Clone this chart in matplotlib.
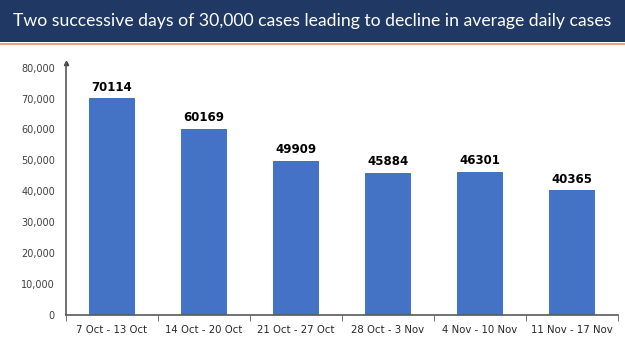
import matplotlib
matplotlib.use("Agg")
import matplotlib.pyplot as plt
from matplotlib.patches import Rectangle
from matplotlib.lines import Line2D

categories = ["7 Oct - 13 Oct", "14 Oct - 20 Oct", "21 Oct - 27 Oct",
              "28 Oct - 3 Nov", "4 Nov - 10 Nov", "11 Nov - 17 Nov"]
values = [70114, 60169, 49909, 45884, 46301, 40365]
yticks = [0, 10000, 20000, 30000, 40000, 50000, 60000, 70000, 80000]
title = "Two successive days of 30,000 cases leading to decline in average daily cases"

fig = plt.figure(figsize=(6.25, 3.51), dpi=100)
fig.patch.set_facecolor("white")

# header band
fig.add_artist(Rectangle((0, 1 - 42 / 351), 1, 42 / 351, transform=fig.transFigure,
                         facecolor="#1F3864", edgecolor="none", zorder=0))
fig.add_artist(Line2D([0, 1], [1 - 43.5 / 351] * 2, transform=fig.transFigure,
                      color="#E8A27C", lw=1.5))
fig.text(0.5, 1 - 21 / 351, title, ha="center", va="center", color="white",
         fontsize=12.7, family="Lato")

ax = fig.add_axes([66 / 625, 1 - 315 / 351, (618 - 66) / 625, (315 - 63) / 351])
x = list(range(len(categories)))
ax.bar(x, values, width=0.5, color="#4472C4", zorder=2)
for xi, v in zip(x, values):
    ax.text(xi, v + 1500, str(v), ha="center", va="bottom", fontsize=8.5,
            fontweight="bold", color="black")

ax.set_xlim(-0.5, len(categories) - 0.5)
ax.set_ylim(0, 81500)
ax.set_yticks(yticks)
ax.set_yticklabels([f"{t:,}" for t in yticks], fontsize=7, color="#404040")
ax.tick_params(axis="y", length=0, pad=8)
ax.set_xticks(x)
ax.set_xticklabels(categories, fontsize=7.3, color="#262626")
ax.tick_params(axis="x", length=0, pad=7)
ax.set_xticks([i - 0.5 for i in range(len(categories) + 1)], minor=True)
ax.tick_params(axis="x", which="minor", length=4, color="#595959", direction="out")

for s in ["top", "right"]:
    ax.spines[s].set_visible(False)
for s in ["left", "bottom"]:
    ax.spines[s].set_color("#595959")
    ax.spines[s].set_linewidth(1.2)
ax.plot([-0.5], [81500], marker="^", markersize=3, color="#404040",
        clip_on=False, transform=ax.transData)

fig.savefig("out.png", dpi=100)
